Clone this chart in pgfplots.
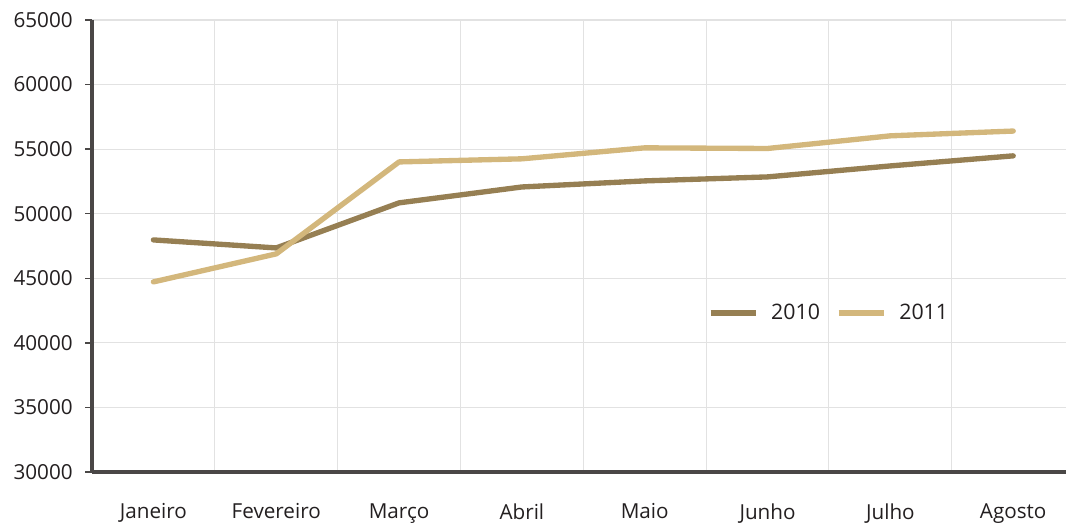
\documentclass[border=0pt]{standalone}
\usepackage{pgfplots}
\pgfplotsset{compat=1.18}
\usepackage{fontspec}
\setmainfont{Open Sans}

\definecolor{serieA}{HTML}{967F53}
\definecolor{serieB}{HTML}{D3B77C}
\definecolor{gridc}{HTML}{E2E2E2}
\definecolor{axisc}{HTML}{4A4746}
\definecolor{textc}{HTML}{231F20}

\begin{document}
\begin{tikzpicture}
\useasboundingbox (-69pt,-38.25pt) rectangle (730.5pt,354pt);
\begin{axis}[
  scale only axis,
  width=730.5pt, height=339pt,
  at={(0pt,0pt)}, anchor=south west,
  xmin=-0.5, xmax=7.43,
  ymin=30000, ymax=65000,
  ytick={30000,35000,...,65000},
  xtick={0,...,7},
  xticklabels={Janeiro,Fevereiro,Março,Abril,Maio,Junho,Julho,Agosto},
  minor xtick={-0.5,0.5,...,7.5},
  xminorgrids, ymajorgrids,
  grid style={gridc, line width=0.8pt},
  minor grid style={gridc, line width=0.8pt},
  axis x line*=bottom, axis y line*=left,
  every outer x axis line/.append style={axisc, line width=2.4pt, -},
  every outer y axis line/.append style={axisc, line width=2.4pt, -},
  tick align=outside,
  major tick length=5pt, minor tick length=5pt,
  every tick/.style={axisc, line width=1pt},
  xtick style={draw=none},
  every minor tick/.style={axisc, line width=1pt},
  scaled y ticks=false,
  /pgf/number format/.cd, assume math mode=true, set thousands separator={}, 1000 sep={},
  /pgfplots/.cd,
  tick label style={font=\fontsize{15.5}{18}\selectfont, text=textc},
  yticklabel style={xshift=-6pt},
  xticklabel style={yshift=-15pt},
  clip=false,
  legend style={draw=none, fill=none, at={(0.757,0.352)}, anchor=center,
    font=\fontsize{16}{19}\selectfont, text=textc,
    /tikz/every odd column/.append style={column sep=7.5pt},
    /tikz/every even column/.append style={column sep=10pt}},
  legend columns=2,
  legend image code/.code={\draw[#1, line cap=butt] (0pt,0pt) -- (34pt,0pt);},
]
\addplot[serieA, line width=4pt, line join=round, line cap=round] coordinates {
  (0,47970) (1,47350) (2,50840) (3,52070) (4,52540) (5,52850) (6,53700) (7,54480)
};
\addlegendentry{2010}
\addplot[serieB, line width=4pt, line join=round, line cap=round] coordinates {
  (0,44720) (1,46890) (2,54010) (3,54250) (4,55100) (5,55050) (6,56030) (7,56400)
};
\addlegendentry{2011}
\end{axis}
\end{tikzpicture}
\end{document}
